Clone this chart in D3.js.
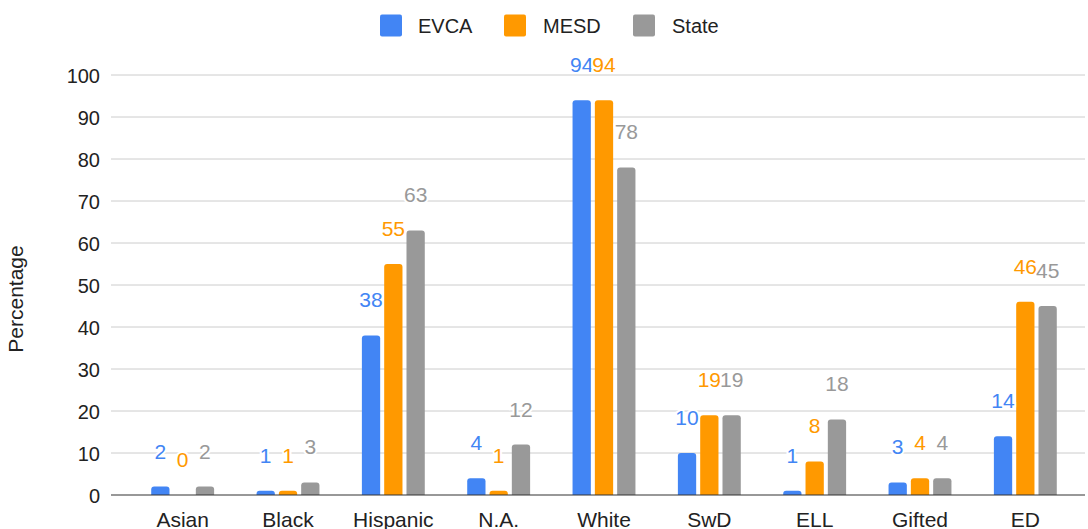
<!DOCTYPE html>
<html>
<head>
<meta charset="utf-8">
<script src="https://cdn.jsdelivr.net/npm/d3@7"></script>
<style>
  html, body { margin: 0; padding: 0; background: #fff; }
  svg { display: block; font-family: "Liberation Sans", Arial, sans-serif; }
</style>
</head>
<body>
<svg id="chart" width="1088" height="529"></svg>
<script>
// Student group percentages by school / district / state
const categories = ["Asian", "Black", "Hispanic", "N.A.", "White", "SwD", "ELL", "Gifted", "ED"];
const evca  = [2, 1, 38, 4, 94, 10, 1, 3, 14];
const mesd  = [0, 1, 55, 1, 94, 19, 8, 4, 46];
const state = [2, 3, 63, 12, 78, 19, 18, 4, 45];
const seriesNames = ["EVCA", "MESD", "State"];
const yTicks = [0, 10, 20, 30, 40, 50, 60, 70, 80, 90, 100];

const seriesValues = [evca, mesd, state];
const colors = ["#4285f4", "#ff9900", "#999999"];

const svg = d3.select("#chart");
const gridLeft = 111, gridRight = 1085;

const x0 = d3.scaleBand().domain(categories).range([130, 1078]);
const x1 = d3.scaleBand().domain(seriesNames).range([-31.45, 31.45]).paddingInner(0.18);
const y = d3.scaleLinear().domain([0, 100]).range([495, 75]);

// Horizontal gridlines
svg.append("g")
  .selectAll("line")
  .data(yTicks.filter(t => t !== 0))
  .join("line")
  .attr("x1", gridLeft).attr("x2", gridRight)
  .attr("y1", d => y(d)).attr("y2", d => y(d))
  .attr("stroke", "#cccccc").attr("stroke-width", 1);

// Y axis tick labels
const yAxis = d3.axisLeft(y).tickValues(yTicks).tickSize(0).tickPadding(0);
const yg = svg.append("g").attr("transform", "translate(100,0)").call(yAxis);
yg.select(".domain").remove();
yg.selectAll("text")
  .attr("font-family", "Liberation Sans, Arial, sans-serif")
  .attr("font-size", 20).attr("fill", "#222").attr("dy", "0.35em");

// Y axis title
svg.append("text")
  .attr("transform", "translate(23,299) rotate(-90)")
  .attr("text-anchor", "middle")
  .attr("font-size", 21).attr("fill", "#222")
  .text("Percentage");

// Bars with rounded tops
function barPath(x, w, top, bottom) {
  const h = bottom - top;
  if (h <= 0) return "";
  const r = Math.min(3, h, w / 2);
  return `M${x},${bottom}V${top + r}Q${x},${top} ${x + r},${top}H${x + w - r}Q${x + w},${top} ${x + w},${top + r}V${bottom}Z`;
}

const rows = categories.map((c, i) => ({
  cat: c,
  vals: seriesNames.map((s, k) => ({ series: s, k, value: seriesValues[k][i] }))
}));

const groups = svg.append("g").selectAll("g")
  .data(rows)
  .join("g")
  .attr("transform", d => `translate(${x0(d.cat) + x0.bandwidth() / 2},0)`);

groups.selectAll("path")
  .data(d => d.vals)
  .join("path")
  .attr("d", d => barPath(x1(d.series), x1.bandwidth(), y(d.value), y(0)))
  .attr("fill", d => colors[d.k]);

// Baseline
svg.append("line")
  .attr("x1", gridLeft).attr("x2", gridRight)
  .attr("y1", y(0)).attr("y2", y(0))
  .attr("stroke", "#333").attr("stroke-width", 1.2);

// Value labels with white halo
groups.selectAll("text.val")
  .data(d => d.vals)
  .join("text")
  .attr("class", "val")
  .attr("x", d => x1(d.series) + x1.bandwidth() / 2)
  .attr("y", d => y(d.value) - 28)
  .attr("text-anchor", "middle")
  .attr("font-size", 21)
  .attr("fill", d => colors[d.k])
  .attr("stroke", "#fff").attr("stroke-width", 4)
  .attr("paint-order", "stroke")
  .text(d => d.value);

// Category labels
const xAxis = d3.axisBottom(x0).tickSize(0).tickPadding(0);
const xg = svg.append("g").attr("transform", "translate(0,495)").call(xAxis);
xg.select(".domain").remove();
xg.selectAll("text")
  .attr("font-family", "Liberation Sans, Arial, sans-serif")
  .attr("font-size", 21).attr("fill", "#222")
  .attr("dy", null).attr("y", 31.5);

// Legend
const legendItems = [
  { name: seriesNames[0], sq: 380, tx: 418 },
  { name: seriesNames[1], sq: 504, tx: 543 },
  { name: seriesNames[2], sq: 633, tx: 672 }
];
const lg = svg.append("g");
legendItems.forEach((it, k) => {
  lg.append("rect")
    .attr("x", it.sq).attr("y", 14.5).attr("width", 22).attr("height", 22)
    .attr("rx", 2).attr("fill", colors[k]);
  lg.append("text")
    .attr("x", it.tx).attr("y", 32.5)
    .attr("font-size", 20).attr("fill", "#222")
    .text(it.name);
});
</script>
</body>
</html>
